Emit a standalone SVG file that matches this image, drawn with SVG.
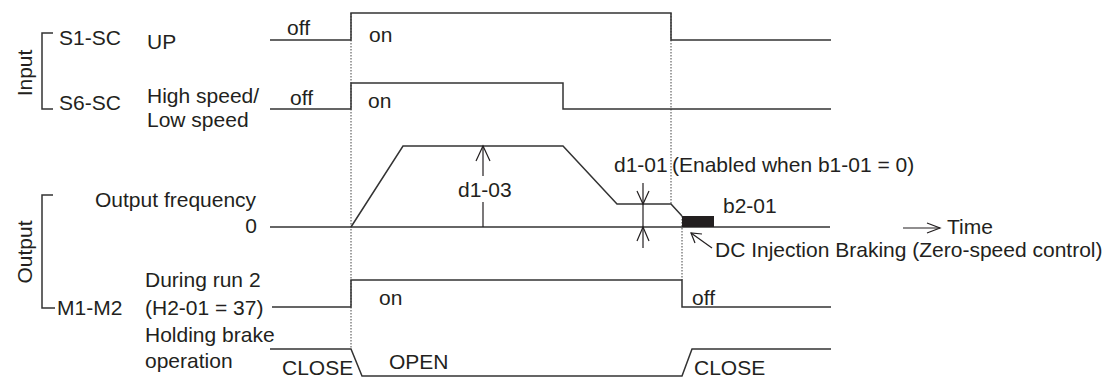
<svg xmlns="http://www.w3.org/2000/svg" width="1112" height="377" viewBox="0 0 1112 377">
<style>
  text { font-family: "Liberation Sans", Arial, sans-serif; font-size: 21px; fill: #231f20; }
  .w { fill: none; stroke: #333; stroke-width: 1.5; }
  .dot { fill: none; stroke: #444; stroke-width: 1; stroke-dasharray: 1.5 1.5; }
  .ah { fill: none; stroke: #231f20; stroke-width: 1.2; }
</style>
<rect width="1112" height="377" fill="#fff"/>

<g id="labels-input">
  <path class="w" d="M53,33 H42 V109 H53"/>
  <text transform="translate(32,73) rotate(-90)" text-anchor="middle">Input</text>
  <text x="59" y="45">S1-SC</text>
  <text x="147" y="49">UP</text>
  <text x="59" y="110">S6-SC</text>
  <text x="147" y="103">High speed/</text>
  <text x="147" y="127">Low speed</text>
</g>

<g id="labels-output">
  <path class="w" d="M53,195 H42 V308 H55"/>
  <text transform="translate(32,252) rotate(-90)" text-anchor="middle">Output</text>
  <text x="95" y="207">Output frequency</text>
  <text x="257" y="233" text-anchor="end">0</text>
  <text x="57" y="315">M1-M2</text>
  <text x="145" y="287">During run 2</text>
  <text x="145" y="315">(H2-01 = 37)</text>
  <text x="145" y="342">Holding brake</text>
  <text x="145" y="368">operation</text>
</g>

<g id="guides">
  <line class="dot" x1="351" y1="13" x2="351" y2="349"/>
  <line class="dot" x1="671" y1="13" x2="671" y2="205"/>
  <line class="dot" x1="682" y1="216" x2="682" y2="280"/>
</g>

<g id="signal-s1">
  <polyline class="w" points="270,40 351,40 351,13 671,13 671,40 831,40"/>
  <text x="287" y="35">off</text>
  <text x="369" y="42">on</text>
</g>

<g id="signal-s6">
  <polyline class="w" points="270,109 351,109 351,83 563,83 563,109 831,109"/>
  <text x="290" y="105">off</text>
  <text x="368" y="108">on</text>
</g>

<g id="signal-freq">
  <line class="w" x1="270" y1="227" x2="830" y2="227"/>
  <polyline class="w" points="351,227 403,146 563,146 617,204 671,204 682,216"/>
  <rect x="682" y="216" width="32" height="11" fill="#231f20"/>
  <text x="458" y="197">d1-03</text>
  <text x="614" y="172">d1-01</text>
  <text x="672" y="172">(Enabled when b1-01 = 0)</text>
  <text x="723" y="213">b2-01</text>
  <text x="947" y="234">Time</text>
  <text x="715" y="257">DC Injection Braking (Zero-speed control)</text>
</g>

<g id="signal-m1m2">
  <polyline class="w" points="272,307 351,307 351,280 682,280 682,307 831,307"/>
  <text x="379" y="305">on</text>
  <text x="692" y="305">off</text>
</g>

<g id="signal-brake">
  <polyline class="w" points="270,349 351,349 362,376 682,376 692,349 831,349"/>
  <text x="282" y="375">CLOSE</text>
  <text x="389" y="369">OPEN</text>
  <text x="694" y="375">CLOSE</text>
</g>

<g id="connectors">
  <line class="ah" x1="483" y1="146" x2="483" y2="176"/>
  <line class="ah" x1="483" y1="202" x2="483" y2="227"/>
  <polyline class="ah" points="476,161 483,146 490,161"/>
  <line class="ah" x1="643" y1="183" x2="643" y2="248"/>
  <polyline class="ah" points="637,191 643,204 649,191"/>
  <polyline class="ah" points="637,241 643,227 649,241"/>
  <line class="ah" x1="903" y1="228" x2="940" y2="228"/>
  <polyline class="ah" points="927,223 940,228 927,233"/>
  <line class="ah" x1="712" y1="248" x2="691" y2="233"/>
  <polyline class="ah" points="702,234 691,233 695,243"/>
</g>
</svg>
